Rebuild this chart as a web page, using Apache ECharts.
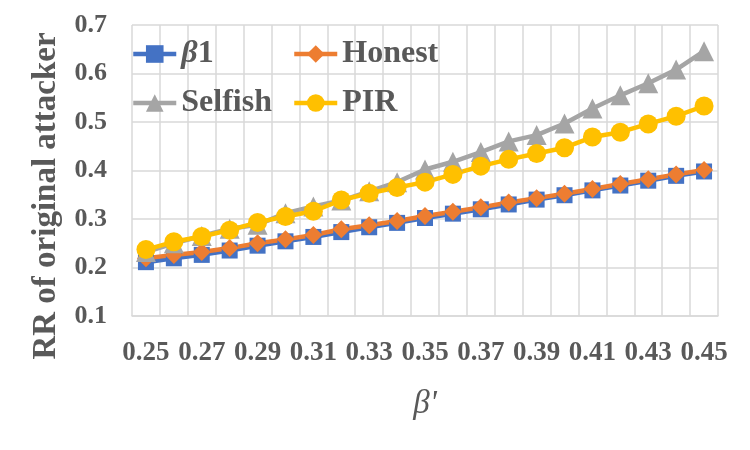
<!DOCTYPE html>
<html>
<head>
<meta charset="utf-8">
<script src="https://cdn.jsdelivr.net/npm/echarts@6/dist/echarts.min.js"></script>
<style>html,body{margin:0;padding:0;background:#fff;}#c{width:750px;height:450px;}</style>
</head>
<body>
<div id="c"></div>
<script>
const categories = ['0.25','0.26','0.27','0.28','0.29','0.30','0.31','0.32','0.33','0.34','0.35','0.36','0.37','0.38','0.39','0.40','0.41','0.42','0.43','0.44','0.45'];
const beta1   = [0.211,0.219,0.226,0.235,0.245,0.254,0.263,0.273,0.283,0.292,0.302,0.311,0.320,0.330,0.340,0.349,0.359,0.369,0.379,0.389,0.398];
const honest  = [0.219,0.226,0.232,0.240,0.250,0.258,0.267,0.279,0.287,0.296,0.306,0.315,0.324,0.334,0.343,0.352,0.362,0.372,0.382,0.392,0.401];
const selfish = [0.232,0.250,0.265,0.280,0.288,0.312,0.326,0.338,0.357,0.376,0.402,0.418,0.438,0.460,0.473,0.497,0.528,0.555,0.580,0.608,0.646];
const pir     = [0.237,0.253,0.264,0.277,0.293,0.305,0.316,0.339,0.353,0.365,0.376,0.392,0.409,0.423,0.435,0.447,0.469,0.479,0.496,0.512,0.533];
const yTicks  = { min: 0.1, max: 0.7, step: 0.1 };

const FONT = 'Liberation Serif';
const TXT = '#595959';
const GRIDC = '#D9D9D9';

const legendText = {
  fontSize: 32, fontWeight: 'bold', fontFamily: FONT, color: TXT,
  rich: {
    i: { fontSize: 32, fontStyle: 'italic', fontWeight: 'bold', fontFamily: FONT, color: TXT },
    b: { fontSize: 32, fontWeight: 'bold', fontFamily: FONT, color: TXT }
  }
};
function mkLegend(name, left, top) {
  return {
    data: [name], left: left, top: top, padding: 0, itemGap: 0,
    itemWidth: 43, itemHeight: 22, textStyle: legendText,
    lineStyle: { width: 4.5 },
    formatter: n => n === 'β1' ? '{i|β}{b|1}' : n
  };
}

const chart = echarts.init(document.getElementById('c'));
chart.setOption({
  animation: false,
  backgroundColor: '#fff',
  grid: { left: 132, right: 32, top: 25, bottom: 134, containLabel: false },
  legend: [
    mkLegend('β1', 131, 38),
    mkLegend('Honest', 292, 38),
    mkLegend('Selfish', 131, 87),
    mkLegend('PIR', 292, 87)
  ],
  xAxis: {
    type: 'category', data: categories, boundaryGap: true,
    axisTick: { show: false },
    axisLine: { show: true, lineStyle: { color: GRIDC, width: 1.5 } },
    splitLine: { show: true, interval: 0, lineStyle: { color: GRIDC, width: 1.5 } },
    axisLabel: { interval: 1, fontSize: 27, fontWeight: 'bold', fontFamily: FONT, color: TXT, margin: 24 },
    name: "β'", nameLocation: 'middle', nameGap: 72,
    nameTextStyle: { fontSize: 33, fontStyle: 'italic', fontFamily: FONT, color: TXT }
  },
  yAxis: {
    type: 'value', min: yTicks.min, max: yTicks.max, interval: yTicks.step,
    axisLine: { show: false }, axisTick: { show: false },
    splitLine: { show: true, lineStyle: { color: GRIDC, width: 1.5 } },
    axisLabel: { formatter: v => v.toFixed(1), fontSize: 26, fontWeight: 'bold', fontFamily: FONT, color: TXT, margin: 25 }
  },
  graphic: [{
    type: 'text', x: 46, y: 196, rotation: Math.PI / 2,
    style: { text: 'RR of original attacker', fontSize: 33, fontWeight: 'bold', fontFamily: FONT, fill: TXT, align: 'center', verticalAlign: 'middle' }
  }],
  series: [
    { name: 'β1', type: 'line', data: beta1, symbol: 'rect', symbolSize: 16, showAllSymbol: true,
      itemStyle: { color: '#4472C4' }, lineStyle: { color: '#4472C4', width: 4.5 } },
    { name: 'Honest', type: 'line', data: honest, symbol: 'diamond', symbolSize: 18, showAllSymbol: true,
      itemStyle: { color: '#ED7D31' }, lineStyle: { color: '#ED7D31', width: 4.5 } },
    { name: 'Selfish', type: 'line', data: selfish, symbol: 'triangle', symbolSize: 20, showAllSymbol: true,
      itemStyle: { color: '#A5A5A5' }, lineStyle: { color: '#A5A5A5', width: 4.5 } },
    { name: 'PIR', type: 'line', data: pir, symbol: 'circle', symbolSize: 19, showAllSymbol: true,
      itemStyle: { color: '#FFC000' }, lineStyle: { color: '#FFC000', width: 4.5 } }
  ]
});
</script>
</body>
</html>
